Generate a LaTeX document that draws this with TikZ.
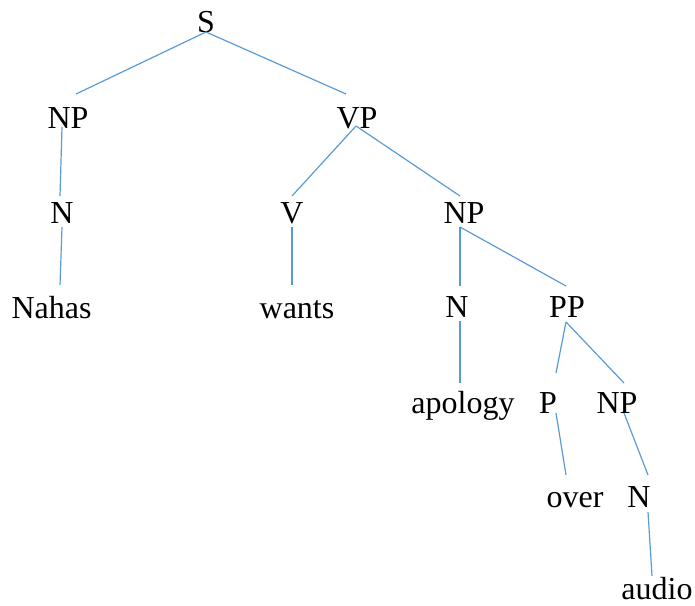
\documentclass[tikz,border=0pt]{standalone}
\usepackage{fontspec}
\setmainfont{Liberation Serif}
\begin{document}
\begin{tikzpicture}[x=1pt,y=-1pt,
  lbl/.style={anchor=base,inner sep=0pt,font=\fontsize{32}{36}\selectfont},
  edge/.style={draw=edgeblue,line width=1.2pt}]
\definecolor{edgeblue}{HTML}{5B9BD5}
\useasboundingbox (0,0) rectangle (695,605);
% labels
\node[lbl] (S) at (206,32) {S};
\node[lbl] (NP1) at (68,128) {NP};
\node[lbl] (VP) at (357,128) {VP};
\node[lbl] (N1) at (62,223) {N};
\node[lbl] (V) at (292,223) {V};
\node[lbl] (NP2) at (464,223) {NP};
\node[lbl] (Nahas) at (51.5,318) {Nahas};
\node[lbl] (wants) at (297,318) {wants};
\node[lbl] (N2) at (457,317) {N};
\node[lbl] (PP) at (567,317) {PP};
\node[lbl] (apology) at (463,413) {apology};
\node[lbl] (P) at (548,413) {P};
\node[lbl] (NP3) at (617,413) {NP};
\node[lbl] (over) at (575,507) {over};
\node[lbl] (N3) at (639,507) {N};
\node[lbl] (audio) at (657,599) {audio};
% branch end points
\coordinate (S-o) at (206,32);
\coordinate (NP1-i) at (76,94);
\coordinate (VP-i) at (346,94);
\coordinate (NP1-o) at (62,127);
\coordinate (N1-i) at (60,196);
\coordinate (N1-o) at (62,227);
\coordinate (Nahas-i) at (60,285);
\coordinate (VP-o) at (356,126);
\coordinate (V-i) at (292,196);
\coordinate (NP2-i) at (460,196);
\coordinate (V-o) at (292,227);
\coordinate (wants-i) at (292,285);
\coordinate (NP2-o) at (460,227);
\coordinate (N2-i) at (460,286);
\coordinate (PP-i) at (566,286);
\coordinate (N2-o) at (460,321);
\coordinate (apology-i) at (460,383);
\coordinate (PP-o) at (566,322);
\coordinate (P-i) at (556,373);
\coordinate (NP3-i) at (624,383);
\coordinate (P-o) at (556,413);
\coordinate (over-i) at (566,475);
\coordinate (NP3-o) at (624,413);
\coordinate (N3-i) at (648,475);
\coordinate (N3-o) at (648,512);
\coordinate (audio-i) at (652,576);
% branches
\draw[edge] (S-o) -- (NP1-i);
\draw[edge] (S-o) -- (VP-i);
\draw[edge] (NP1-o) -- (N1-i);
\draw[edge] (N1-o) -- (Nahas-i);
\draw[edge] (VP-o) -- (V-i);
\draw[edge] (VP-o) -- (NP2-i);
\draw[edge] (V-o) -- (wants-i);
\draw[edge] (NP2-o) -- (N2-i);
\draw[edge] (NP2-o) -- (PP-i);
\draw[edge] (N2-o) -- (apology-i);
\draw[edge] (PP-o) -- (P-i);
\draw[edge] (PP-o) -- (NP3-i);
\draw[edge] (P-o) -- (over-i);
\draw[edge] (NP3-o) -- (N3-i);
\draw[edge] (N3-o) -- (audio-i);
\end{tikzpicture}
\end{document}
